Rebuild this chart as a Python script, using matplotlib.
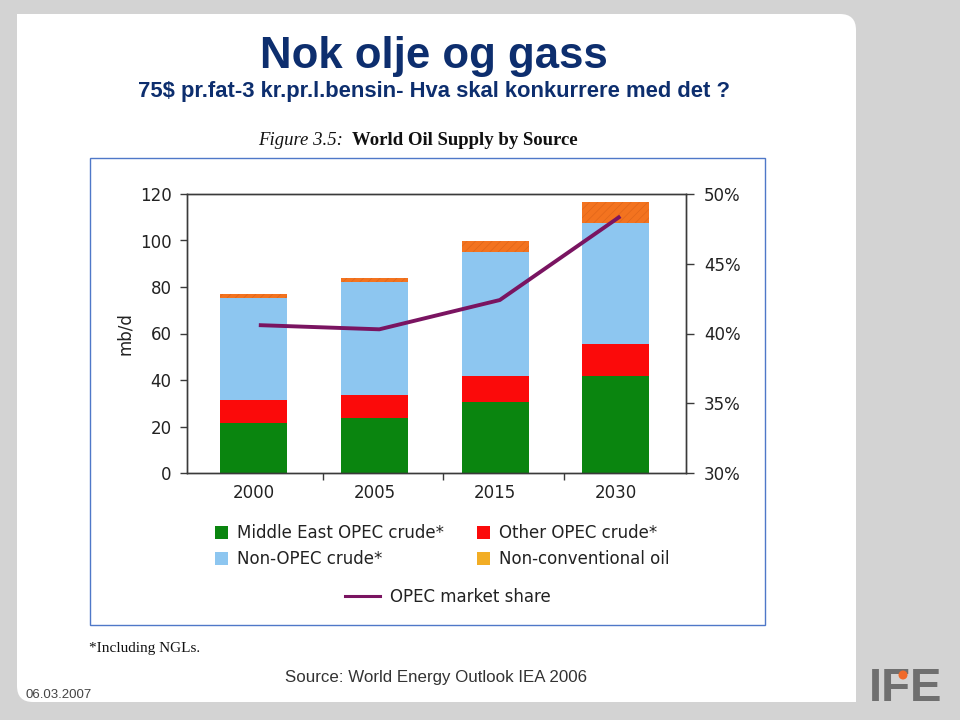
import matplotlib
matplotlib.use("Agg")
import matplotlib.pyplot as plt
from matplotlib.patches import Rectangle, FancyBboxPatch, Patch, Circle
from matplotlib.lines import Line2D
import numpy as np

# ---- data ----
years = ["2000", "2005", "2015", "2030"]
middle_east_opec = [21.5, 23.8, 30.5, 41.7]
other_opec = [9.8, 9.9, 11.1, 13.7]
non_opec = [44.1, 48.5, 53.5, 52.1]
non_conventional = [1.5, 1.7, 4.6, 8.9]
opec_share = [40.6, 40.3, 42.4, 48.4]
left_ticks = [0, 20, 40, 60, 80, 100, 120]
right_ticks = [30, 35, 40, 45, 50]

legend_labels = ["Middle East OPEC crude*", "Non-OPEC crude*",
                 "Other OPEC crude*", "Non-conventional oil"]

C_GREEN = "#0a850f"
C_RED = "#fb0a0a"
C_BLUE = "#8dc6f0"
C_ORANGE = "#f3731f"
C_ORANGE_LEG = "#f2ad25"
C_LINE = "#7a1461"
NAVY = "#0d2e6e"
AX_COL = "#3a3a3a"

W, H = 960, 720
fig = plt.figure(figsize=(W / 100, H / 100), dpi=100)
fig.patch.set_facecolor("#d3d3d3")

def px(x, y):
    return (x / 100.0, (H - y) / 100.0)

T = fig.dpi_scale_trans
# white slide area
x0, y0, x1, y1 = 17, 14, 856, 702
slide = FancyBboxPatch(px(x0, y1), (x1 - x0) / 100, (y1 - y0) / 100,
                       boxstyle="round,pad=0,rounding_size=0.16",
                       transform=T, facecolor="white", edgecolor="none", zorder=-5)
fig.add_artist(slide)
fig.add_artist(Rectangle(px(x0, 60), 0.5, 0.46, transform=T, facecolor="white",
                         edgecolor="none", zorder=-5))
fig.add_artist(Rectangle(px(x1 - 50, y1), 0.5, 0.4, transform=T, facecolor="white",
                         edgecolor="none", zorder=-5))

# chart frame (blue border)
fx0, fy0, fx1, fy1 = 90, 158, 765, 625
fig.add_artist(Rectangle(px(fx0, fy1), (fx1 - fx0) / 100, (fy1 - fy0) / 100,
                         transform=T, facecolor="white", edgecolor="#4f78c8",
                         linewidth=1.0, zorder=-4))

# titles
title_fonts = ["Liberation Sans Narrow", "Liberation Sans", "DejaVu Sans"]
fig.text(434 / W, 1 - 68 / H, "Nok olje og gass", ha="center", va="baseline",
         fontsize=31.5, fontweight="bold", color=NAVY, family=title_fonts)
fig.text(434 / W, 1 - 97 / H, "75$ pr.fat-3 kr.pr.l.bensin- Hva skal konkurrere med det ?",
         ha="center", va="baseline", fontsize=15.8, fontweight="bold", color=NAVY,
         family=title_fonts)
serif = ["Liberation Serif", "DejaVu Serif"]
fig.text(258 / W, 1 - 145 / H, "Figure 3.5:", ha="left", va="baseline",
         fontsize=13.5, style="italic", color="#111111", family=serif)
fig.text(352 / W, 1 - 145 / H, "World Oil Supply by Source", ha="left", va="baseline",
         fontsize=13.5, fontweight="bold", color="#111111", family=serif)

# ---- main axes ----
chart_font = ["DejaVu Sans"]
plt.rcParams["font.family"] = chart_font
ax_l, ax_r, ax_t, ax_b = 187, 686, 194, 473
ax = fig.add_axes([ax_l / W, 1 - ax_b / H, (ax_r - ax_l) / W, (ax_b - ax_t) / H])
ax.set_facecolor("none")
x = np.arange(len(years))
bw = 0.556
b1 = np.array(middle_east_opec)
b2 = b1 + np.array(other_opec)
b3 = b2 + np.array(non_opec)
ax.bar(x, middle_east_opec, bw, color=C_GREEN, zorder=2)
ax.bar(x, other_opec, bw, bottom=b1, color=C_RED, zorder=2)
ax.bar(x, non_opec, bw, bottom=b2, color=C_BLUE, zorder=2)
plt.rcParams["hatch.linewidth"] = 0.5
ax.bar(x, non_conventional, bw, bottom=b3, color=C_ORANGE, edgecolor="#e0661a",
       linewidth=0, hatch="////", zorder=2)

ax.set_xlim(-0.556, 3.585)
ax.set_ylim(0, 120)
ax.set_yticks(left_ticks)
ax.set_yticklabels([str(v) for v in left_ticks])
ax.set_xticks(x)
ax.set_xticklabels(years)
ax.set_xticks([0.57, 1.57, 2.57], minor=True)
ax.tick_params(axis="x", which="major", length=0, pad=8, labelsize=12, colors="#222222")
ax.tick_params(axis="x", which="minor", length=5, width=1, color=AX_COL, direction="out")
ax.tick_params(axis="y", length=5, width=1, color=AX_COL, pad=6, labelsize=12,
               labelcolor="#222222")
for s in ax.spines.values():
    s.set_color(AX_COL)
    s.set_linewidth(1.0)
ax.set_ylabel("mb/d", fontsize=12, color="#222222", labelpad=4)

ax2 = ax.twinx()
ax2.set_ylim(30, 50)
ax2.set_yticks(right_ticks)
ax2.set_yticklabels([f"{v}%" for v in right_ticks])
ax2.tick_params(axis="y", length=6, width=1, color=AX_COL, pad=7, labelsize=12,
                labelcolor="#222222")
for s in ax2.spines.values():
    s.set_color(AX_COL)
    s.set_linewidth(1.0)
ax2.plot(x + 0.04, opec_share, color=C_LINE, linewidth=2.8, zorder=3,
         solid_capstyle="butt")

# ---- legends ----
handles = [Patch(facecolor=C_GREEN), Patch(facecolor=C_BLUE),
           Patch(facecolor=C_RED), Patch(facecolor=C_ORANGE_LEG)]
labels = [legend_labels[0], legend_labels[1], legend_labels[2], legend_labels[3]]
fig.legend(handles, labels, ncol=2, loc="upper left",
           bbox_to_anchor=(215 / W, 1 - 524 / H), frameon=False, borderpad=0,
           borderaxespad=0, fontsize=12, handlelength=0.8, handleheight=0.8,
           handletextpad=0.5, labelspacing=0.5, columnspacing=2.0,
           labelcolor="#222222")
fig.legend([Line2D([0], [0], color=C_LINE, linewidth=2.2)], ["OPEC market share"],
           loc="upper left", bbox_to_anchor=(345 / W, 1 - 588 / H), frameon=False,
           borderpad=0, borderaxespad=0, fontsize=12, handlelength=2.1,
           handletextpad=0.6, labelcolor="#222222")

# ---- footer ----
fig.text(89 / W, 1 - 652 / H, "*Including NGLs.", ha="left", va="baseline",
         fontsize=11, color="#111111", family=serif)
fig.text(436 / W, 1 - 682 / H, "Source: World Energy Outlook IEA 2006", ha="center",
         va="baseline", fontsize=12.2, color="#333333", family=["Liberation Sans"])
fig.text(25 / W, 1 - 698 / H, "06.03.2007", ha="left", va="baseline",
         fontsize=9.5, color="#444444", family=["Liberation Sans"])

# logo
fig.text(906 / W, 1 - 701 / H, "IFE", ha="center", va="baseline", fontsize=34,
         fontweight="bold", color="#6f6f6f", family=["Liberation Sans"])
fig.add_artist(Circle(px(903, 675), 0.045, transform=T, facecolor="#f06a2a",
                      edgecolor="none", zorder=5))

fig.savefig("out.png", dpi=100, facecolor=fig.get_facecolor())
